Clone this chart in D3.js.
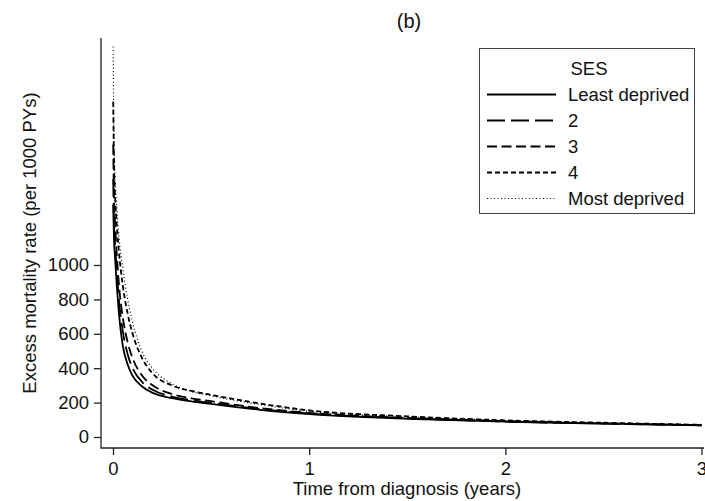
<!DOCTYPE html>
<html>
<head>
<meta charset="utf-8">
<script src="https://cdn.jsdelivr.net/npm/d3@7"></script>
<style>
  body { margin: 0; background: #fff; }
  svg { font-family: "Liberation Sans", Arial, Helvetica, sans-serif; }
</style>
</head>
<body>
<div id="mainContainer"></div>
<script>
// time from diagnosis (years)
const times = [0.001, 0.005, 0.01, 0.02, 0.03, 0.05, 0.075, 0.1, 0.15, 0.2, 0.3, 0.4, 0.5, 0.75, 1, 1.5, 2, 2.5, 3];

// excess mortality rate per 1000 PYs, by SES group
const leastDeprived = [1350, 1150, 1050, 870, 720, 530, 420, 355, 292, 258, 226, 207, 192, 158, 133, 106, 89, 78, 68];
const ses2 = [1500, 1250, 1140, 950, 800, 615, 480, 400, 318, 276, 235, 214, 198, 162, 136, 109, 90, 78, 68];
const ses3 = [1700, 1400, 1260, 1050, 890, 695, 550, 458, 355, 302, 250, 225, 208, 168, 140, 111, 92, 79, 69];
const ses4 = [1950, 1600, 1420, 1220, 1080, 880, 715, 600, 455, 372, 300, 268, 245, 195, 155, 120, 97, 83, 71];
const mostDeprived = [2270, 1720, 1520, 1320, 1170, 980, 800, 665, 492, 400, 310, 265, 240, 188, 150, 118, 96, 82, 71];

const seriesNames = ['Least deprived', '2', '3', '4', 'Most deprived'];
const seriesValues = [leastDeprived, ses2, ses3, ses4, mostDeprived];
const dashes = [null, '18,6', '10,4.5', '5,3', '1,2.5'];
const widths = [1.8, 1.8, 1.8, 1.8, 1.2];

const xTicks = [0, 1, 2, 3];
const yTicks = [0, 200, 400, 600, 800, 1000];

const width = 705;
const height = 501;
const fontSize = '18.5px';

const svg = d3.select('#mainContainer')
  .append('svg')
  .attr('width', width)
  .attr('height', height);

const x = d3.scaleLinear()
  .domain([0, 3])
  .range([113, 701.5]);

const y = d3.scaleLinear()
  .domain([0, 1000])
  .range([437, 265]);

// plot frame (left and bottom)
const axisLeftX = 101;
const axisBottomY = 448;
svg.append('path')
  .attr('d', `M${axisLeftX},38V${axisBottomY}H704`)
  .attr('fill', 'none')
  .attr('stroke', '#222')
  .attr('stroke-width', 1.3);

// curves
const line = d3.line()
  .x(d => x(d[0]))
  .y(d => y(d[1]))
  .curve(d3.curveMonotoneX);

svg.append('g')
  .selectAll('path')
  .data(seriesValues)
  .join('path')
    .attr('d', vals => line(times.map((t, i) => [t, vals[i]])))
    .attr('fill', 'none')
    .attr('stroke', '#000')
    .attr('stroke-width', (d, i) => widths[i])
    .attr('stroke-dasharray', (d, i) => dashes[i]);

//Y-AXIS
svg.append('g')
  .attr('transform', `translate(${axisLeftX},0)`)
  .call(d3.axisLeft(y).tickValues(yTicks).tickFormat(d3.format('d')).tickSize(7).tickPadding(5))
  .call(g => g.select('.domain').remove())
  .call(g => g.selectAll('line').attr('stroke', '#222').attr('stroke-width', 1.3))
  .call(g => g.selectAll('text').attr('fill', '#111'))
  .attr('font-size', fontSize)
  .attr('font-family', null);

//X-AXIS
svg.append('g')
  .attr('transform', `translate(0,${axisBottomY})`)
  .call(d3.axisBottom(x).tickValues(xTicks).tickFormat(d3.format('d')).tickSize(7).tickPadding(7))
  .call(g => g.select('.domain').remove())
  .call(g => g.selectAll('line').attr('stroke', '#222').attr('stroke-width', 1.3))
  .call(g => g.selectAll('text').attr('fill', '#111'))
  .attr('font-size', fontSize)
  .attr('font-family', null);

// axis titles
svg.append('text')
  .attr('x', 407)
  .attr('y', 495)
  .attr('text-anchor', 'middle')
  .attr('font-size', fontSize)
  .attr('fill', '#111')
  .text('Time from diagnosis (years)');

svg.append('text')
  .attr('transform', 'translate(36,243) rotate(-90)')
  .attr('text-anchor', 'middle')
  .attr('font-size', fontSize)
  .attr('fill', '#111')
  .text('Excess mortality rate (per 1000 PYs)');

// title
svg.append('text')
  .attr('x', 409)
  .attr('y', 28)
  .attr('text-anchor', 'middle')
  .attr('font-size', '20px')
  .attr('fill', '#111')
  .text('(b)');

// legend
const legend = svg.append('g');
legend.append('rect')
  .attr('x', 479.5)
  .attr('y', 48.5)
  .attr('width', 215)
  .attr('height', 165)
  .attr('fill', '#fff')
  .attr('stroke', '#444')
  .attr('stroke-width', 1);

legend.append('text')
  .attr('x', 589)
  .attr('y', 75)
  .attr('text-anchor', 'middle')
  .attr('font-size', fontSize)
  .attr('fill', '#111')
  .text('SES');

const rows = legend.selectAll('g.row')
  .data(seriesNames)
  .join('g')
    .attr('class', 'row')
    .attr('transform', (d, i) => `translate(0,${100.5 + i * 26})`);

rows.append('line')
  .attr('x1', 487)
  .attr('x2', 556)
  .attr('y1', -6)
  .attr('y2', -6)
  .attr('stroke', '#000')
  .attr('stroke-width', (d, i) => widths[i])
  .attr('stroke-dasharray', (d, i) => dashes[i]);

rows.append('text')
  .attr('x', 568)
  .attr('font-size', fontSize)
  .attr('fill', '#111')
  .text(d => d);
</script>
</body>
</html>
